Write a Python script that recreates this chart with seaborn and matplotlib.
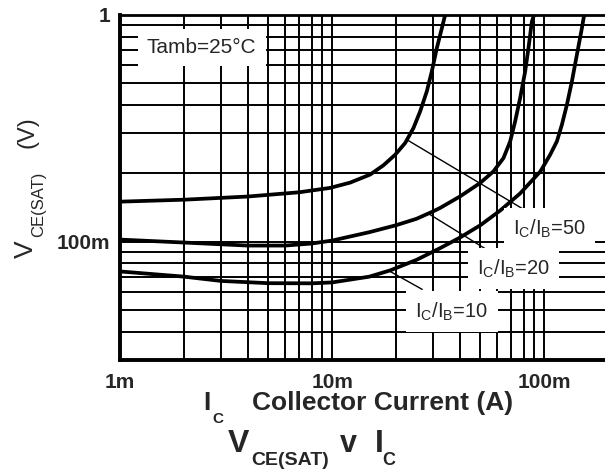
import numpy as np
import pandas as pd
import matplotlib
matplotlib.use("Agg")
import matplotlib.pyplot as plt
import matplotlib.ticker as mticker
import seaborn as sns

# ---- data ----
ic_50 = [0.001, 0.002, 0.004, 0.007, 0.00978, 0.01216, 0.01511, 0.01746, 0.01983,
         0.0221, 0.02419, 0.02601, 0.02796, 0.02952, 0.03117, 0.03292, 0.03412]
vce_50 = [0.150, 0.153, 0.158, 0.165, 0.1725, 0.1820, 0.1975, 0.2170, 0.2416,
          0.2721, 0.3168, 0.3752, 0.4596, 0.5626, 0.7130, 0.8736, 1.0]

ic_20 = [0.001, 0.002, 0.004, 0.006, 0.008, 0.010, 0.015, 0.020, 0.025, 0.030,
         0.03231, 0.04016, 0.0499, 0.05768, 0.06431, 0.06914, 0.07296, 0.07703,
         0.08134, 0.0843, 0.0875, 0.0896]
vce_20 = [0.102, 0.099, 0.096, 0.096, 0.098, 0.101, 0.110, 0.118, 0.126, 0.136,
          0.1407, 0.1583, 0.1813, 0.2041, 0.2337, 0.2767, 0.3389, 0.4295,
          0.5626, 0.7130, 0.9345, 1.0]

ic_10 = [0.001, 0.002, 0.003, 0.005, 0.008, 0.010, 0.015, 0.0188, 0.025, 0.03231,
         0.040, 0.050, 0.062, 0.077, 0.096, 0.1067, 0.1148, 0.1212,
         0.128, 0.1351, 0.1426, 0.1506, 0.1544]
vce_10 = [0.0738, 0.0700, 0.0670, 0.0655, 0.0654, 0.0660, 0.0700, 0.0746, 0.0830, 0.0935,
          0.104, 0.118, 0.137, 0.163, 0.204, 0.2416, 0.2767, 0.3276,
          0.4015, 0.5084, 0.6665, 0.8736, 1.0]

ratios = ["50", "20", "10"]
x_ticks = [0.001, 0.01, 0.1]
x_ticklabels = ["1m", "10m", "100m"]
y_ticks = [0.1, 1.0]
y_ticklabels = ["100m", "1"]

# leader lines: (curve point) -> (label box edge)
leaders = {
    "50": [(0.0226, 0.281), (0.0787, 0.140)],
    "20": [(0.0284, 0.133), (0.0527, 0.093)],
    "10": [(0.0184, 0.0746), (0.0266, 0.0615)],
}
label_pos = {"50": (0.0714, 0.1074), "20": (0.0483, 0.0716), "10": (0.0247, 0.0463)}

df = pd.concat([
    pd.DataFrame({"ic": ic_50, "vce": vce_50, "ratio": "50"}),
    pd.DataFrame({"ic": ic_20, "vce": vce_20, "ratio": "20"}),
    pd.DataFrame({"ic": ic_10, "vce": vce_10, "ratio": "10"}),
])

sns.set_style("white")
plt.rcParams["font.family"] = ["Liberation Sans", "DejaVu Sans"]
plt.rcParams["mathtext.fontset"] = "custom"
plt.rcParams["mathtext.rm"] = "Liberation Sans"
plt.rcParams["mathtext.it"] = "Liberation Sans:italic"
plt.rcParams["mathtext.bf"] = "Liberation Sans:bold"

W, H = 605, 472
fig = plt.figure(figsize=(W / 100, H / 100), dpi=100)
ax = fig.add_axes([120 / W, 1 - 360 / H, (608 - 120) / W, (360 - 15) / H])
ax.set_xscale("log")
ax.set_yscale("log")

sns.lineplot(data=df, x="ic", y="vce", hue="ratio", hue_order=ratios,
             palette=["black"] * 3, estimator=None, legend=False, lw=2.7,
             solid_joinstyle="round", ax=ax, zorder=3)

ax.set_xlim(0.001, 0.2)
ax.set_ylim(0.03, 1.0)

ax.xaxis.set_major_locator(mticker.FixedLocator(x_ticks))
ax.xaxis.set_major_formatter(mticker.FixedFormatter(x_ticklabels))
ax.xaxis.set_minor_locator(mticker.LogLocator(base=10, subs=np.arange(2, 10)))
ax.xaxis.set_minor_formatter(mticker.NullFormatter())
ax.yaxis.set_major_locator(mticker.FixedLocator(y_ticks))
ax.yaxis.set_major_formatter(mticker.FixedFormatter(y_ticklabels))
ax.yaxis.set_minor_locator(mticker.LogLocator(base=10, subs=np.arange(2, 10)))
ax.yaxis.set_minor_formatter(mticker.NullFormatter())

ax.grid(True, which="both", color="black", lw=1.4)
ax.tick_params(which="both", length=0)
ax.tick_params(axis="x", pad=9, labelsize=15)
ax.tick_params(axis="y", pad=7, labelsize=15)
for lab in ax.get_xticklabels() + ax.get_yticklabels():
    lab.set_fontweight("bold")

for side in ["left", "bottom"]:
    ax.spines[side].set_linewidth(2.8)
    ax.spines[side].set_color("black")
ax.spines["top"].set_linewidth(2.0)
ax.spines["top"].set_color("black")
ax.spines["right"].set_visible(False)
ax.set_xlabel("")
ax.set_ylabel("")

# leader lines
for r in ratios:
    (x0, y0), (x1, y1) = leaders[r]
    ax.plot([x0, x1], [y0, y1], color="black", lw=1.0, zorder=4)

box = dict(boxstyle="square,pad=0.45", fc="white", ec="none")
for r in ratios:
    x, y = label_pos[r]
    ax.text(x, y, r"$\mathrm{I_C/I_B}$=" + r, fontsize=14.5, ha="left",
            va="baseline", bbox=box, zorder=5)

ax.text(0.00134, 0.68, "Tamb=25°C", fontsize=15, ha="left", va="baseline",
        bbox=dict(boxstyle="square,pad=0.45", fc="white", ec="none"), zorder=5)

def ft(px, py, s, **kw):
    fig.text(px / W, 1 - py / H, s, ha="left", va="baseline", **kw)

# y label (rotated)
ft(33, 258, "V", fontsize=19, rotation=90, rotation_mode="anchor")
ft(43, 237, "CE(SAT)", fontsize=12, rotation=90, rotation_mode="anchor")
ft(33, 148, "(V)", fontsize=17, rotation=90, rotation_mode="anchor")

# x label
ft(203, 410, "I", fontsize=19, fontweight="bold")
ft(212, 423, "C", fontsize=11, fontweight="bold")
ft(252, 410, "Collector Current (A)", fontsize=19, fontweight="bold")

# title
ft(228, 452, "V", fontsize=23, fontweight="bold")
ft(251, 465, "CE(SAT)", fontsize=14, fontweight="bold")
ft(340, 452, "v", fontsize=22, fontweight="bold")
ft(375, 452, "I", fontsize=23, fontweight="bold")
ft(382, 465, "C", fontsize=13, fontweight="bold")

fig.savefig("out.png", dpi=100)
